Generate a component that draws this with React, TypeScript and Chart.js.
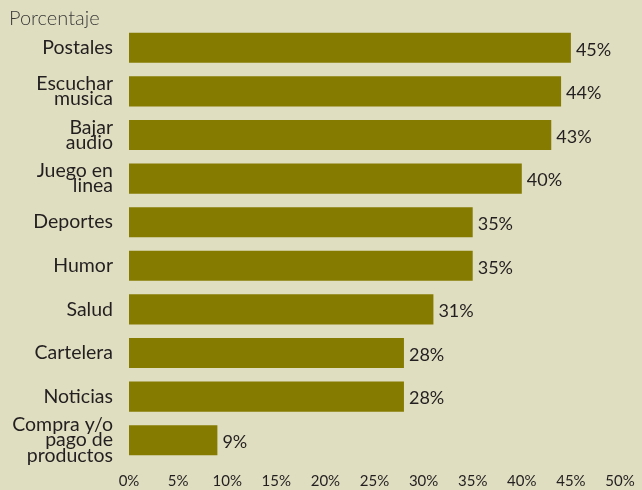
import React, { useEffect, useRef } from "react";
import { Chart, registerables } from "chart.js";

Chart.register(...registerables);

const categories: (string | string[])[] = [
  "Postales",
  ["Escuchar", "musica"],
  ["Bajar", "audio"],
  ["Juego en", "linea"],
  "Deportes",
  "Humor",
  "Salud",
  "Cartelera",
  "Noticias",
  ["Compra y/o", "pago de", "productos"],
];
const values = [45, 44, 43, 40, 35, 35, 31, 28, 28, 9];
const xTicks = [0, 5, 10, 15, 20, 25, 30, 35, 40, 45, 50];
const axisTitle = "Porcentaje";

const BG = "#e0dec0";
const BAR = "#857b00";
const TEXT = "#231f20";
const FONT = "Lato, 'Open Sans', sans-serif";

export default function App() {
  const ref = useRef<HTMLCanvasElement | null>(null);
  useEffect(() => {
    if (!ref.current) return;
    const bgPlugin = {
      id: "bg",
      beforeDraw(chart: any) {
        const { ctx, width, height } = chart;
        ctx.save();
        ctx.fillStyle = BG;
        ctx.fillRect(0, 0, width, height);
        ctx.restore();
      },
    };
    const labelPlugin = {
      id: "vals",
      afterDatasetsDraw(chart: any) {
        const { ctx } = chart;
        const meta = chart.getDatasetMeta(0);
        ctx.save();
        ctx.fillStyle = TEXT;
        ctx.font = `18px ${FONT}`;
        ctx.textAlign = "left";
        ctx.textBaseline = "middle";
        meta.data.forEach((bar: any, i: number) => {
          ctx.fillText(values[i] + "%", bar.x + 5, bar.y + 2);
        });
        ctx.font = `300 20px ${FONT}`;
        ctx.fillStyle = "#3a3a3a";
        ctx.textAlign = "left";
        ctx.textBaseline = "middle";
        ctx.fillText(axisTitle, 9, 19);
        ctx.restore();
      },
    };
    const chart = new Chart(ref.current, {
      type: "bar",
      data: {
        labels: categories,
        datasets: [
          {
            data: values,
            backgroundColor: BAR,
            borderWidth: 0,
            categoryPercentage: 1,
            barPercentage: 0.69,
          },
        ],
      },
      options: {
        indexAxis: "y",
        animation: false,
        responsive: false,
        layout: { padding: { top: 26, right: 0, left: 0, bottom: 0 } },
        plugins: { legend: { display: false }, tooltip: { enabled: false } },
        scales: {
          x: {
            min: 0,
            max: 50,
            afterBuildTicks(scale: any) {
              scale.ticks = xTicks.map((v) => ({ value: v }));
            },
            afterFit(scale: any) {
              scale.height = 28;
              scale.paddingRight = 22;
              scale.paddingLeft = 0;
            },
            grid: { display: false, drawTicks: false },
            border: { display: false },
            ticks: {
              color: TEXT,
              font: { family: FONT, size: 15 },
              padding: 10,
              autoSkip: false,
              maxRotation: 0,
              callback: (v: any) => v + "%",
            },
          },
          y: {
            afterFit(scale: any) {
              scale.width = 129;
              scale.paddingTop = 0;
              scale.paddingBottom = 0;
            },
            grid: { display: false, drawTicks: false },
            border: { display: false },
            ticks: {
              color: TEXT,
              font: { family: FONT, size: 19.5, lineHeight: 0.78 },
              padding: 16,
              autoSkip: false,
            },
          },
        },
      },
      plugins: [bgPlugin, labelPlugin],
    });
    return () => chart.destroy();
  }, []);
  return (
    <div style={{ position: "fixed", left: 0, top: 0, width: 642, height: 490, background: BG }}>
      <canvas ref={ref} width={642} height={490} style={{ display: "block" }} />
    </div>
  );
}
